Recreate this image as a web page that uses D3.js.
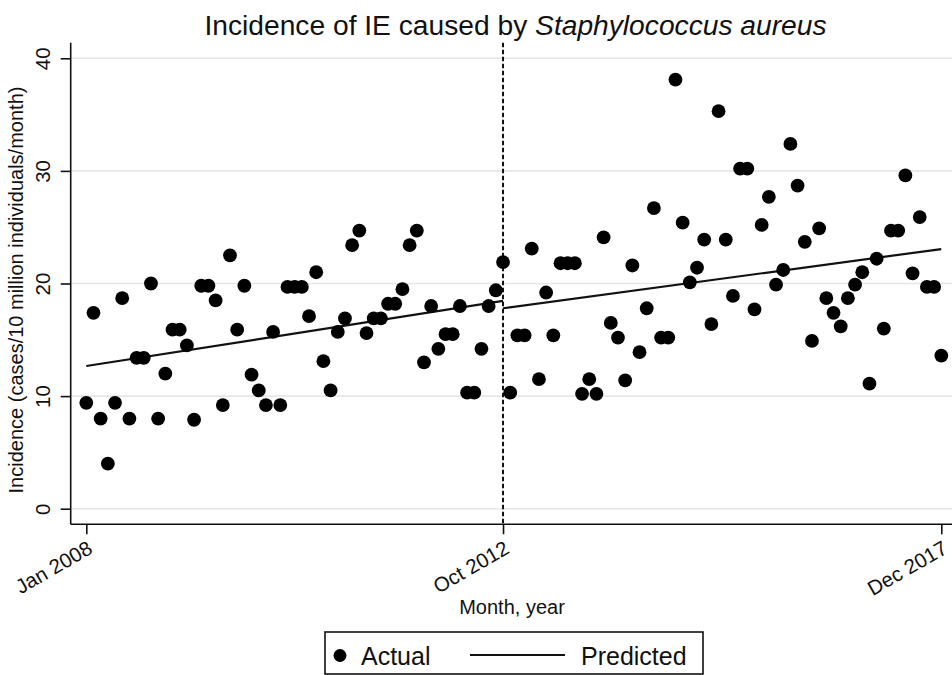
<!DOCTYPE html>
<html>
<head>
<meta charset="utf-8">
<script src="https://cdn.jsdelivr.net/npm/d3@7"></script>
<style>
  html, body { margin: 0; padding: 0; background: #fff; }
  svg { display: block; }
  text { font-family: "Liberation Sans", Arial, sans-serif; fill: #111; }
</style>
</head>
<body>
<div id="chart"></div>
<script>
// ---- data ----
const titleMain = "Incidence of IE caused by ";
const titleItalic = "Staphylococcus aureus";
const xTitle = "Month, year";
const yTitle = "Incidence (cases/10 million individuals/month)";
const xTickMonths = [0, 58, 119];
const xTickLabels = ["Jan 2008", "Oct 2012", "Dec 2017"];
const yTicks = [0, 10, 20, 30, 40];
const interventionMonth = 58;
const actual = [
  9.4, 17.4, 8.0, 4.0, 9.4, 18.7, 8.0, 13.4, 13.4, 20.0,
  8.0, 12.0, 15.9, 15.9, 14.5, 7.9, 19.8, 19.8, 18.5, 9.2,
  22.5, 15.9, 19.8, 11.9, 10.5, 9.2, 15.7, 9.2, 19.7, 19.7,
  19.7, 17.1, 21.0, 13.1, 10.5, 15.7, 16.9, 23.4, 24.7, 15.6,
  16.9, 16.9, 18.2, 18.2, 19.5, 23.4, 24.7, 13.0, 18.0, 14.2,
  15.5, 15.5, 18.0, 10.3, 10.3, 14.2, 18.0, 19.4, 21.9, 10.3,
  15.4, 15.4, 23.1, 11.5, 19.2, 15.4, 21.8, 21.8, 21.8, 10.2,
  11.5, 10.2, 24.1, 16.5, 15.2, 11.4, 21.6, 13.9, 17.8, 26.7,
  15.2, 15.2, 38.1, 25.4, 20.1, 21.4, 23.9, 16.4, 35.3, 23.9,
  18.9, 30.2, 30.2, 17.7, 25.2, 27.7, 19.9, 21.2, 32.4, 28.7,
  23.7, 14.9, 24.9, 18.7, 17.4, 16.2, 18.7, 19.9, 21.0, 11.1,
  22.2, 16.0, 24.7, 24.7, 29.6, 20.9, 25.9, 19.7, 19.7, 13.6
];
// predicted segments (month, value)
const predictedPreMonths = [0, 58];
const predictedPreValues = [12.67, 18.45];
const predictedPostMonths = [58, 119];
const predictedPostValues = [17.8, 23.06];
const legendLabels = ["Actual", "Predicted"];

// ---- chart ----
const W = 952, H = 675;
const svg = d3.select("#chart").append("svg").attr("width", W).attr("height", H);

const axisX = 70.7, axisY = 524.3, plotTop = 42.7, plotRight = 952;
const x = d3.scaleLinear().domain([0, 119]).range([86.3, 941.3]);
const y = d3.scaleLinear().domain([0, 40]).range([508.7, 58.3]);

// gridlines
svg.append("g").selectAll("line").data(yTicks).join("line")
  .attr("x1", axisX).attr("x2", plotRight)
  .attr("y1", d => y(d)).attr("y2", d => y(d))
  .attr("stroke", "#e6e6e6").attr("stroke-width", 1.6);

// y axis
const yAxis = svg.append("g").attr("transform", `translate(${axisX},0)`)
  .call(d3.axisLeft(y).tickValues(yTicks).tickSize(10).tickPadding(0).tickFormat(d3.format("d")));
yAxis.select(".domain").attr("d", `M0,${plotTop}V${axisY}`).attr("stroke", "#111").attr("stroke-width", 1.6);
yAxis.selectAll(".tick line").attr("stroke", "#111").attr("stroke-width", 1.6);
yAxis.selectAll(".tick text")
  .attr("font-size", 20.5).attr("text-anchor", "middle").attr("dy", 0)
  .attr("x", null)
  .attr("transform", "translate(-21,0) rotate(-90)")
  .attr("font-family", "Liberation Sans, Arial, sans-serif").attr("fill", "#111");

// x axis
const xAxis = svg.append("g").attr("transform", `translate(0,${axisY})`)
  .call(d3.axisBottom(x).tickValues(xTickMonths).tickSize(10)
    .tickFormat((d, i) => xTickLabels[i]));
xAxis.select(".domain").attr("d", `M${axisX},0H${plotRight}`).attr("stroke", "#111").attr("stroke-width", 1.6);
xAxis.selectAll(".tick line").attr("stroke", "#111").attr("stroke-width", 1.6);
xAxis.selectAll(".tick text")
  .attr("font-size", 20.5).attr("text-anchor", "end").attr("dy", 0).attr("y", null)
  .attr("transform", "translate(7,28) rotate(-30)")
  .attr("font-family", "Liberation Sans, Arial, sans-serif").attr("fill", "#111");

// intervention dashed line
svg.append("line")
  .attr("x1", x(interventionMonth)).attr("x2", x(interventionMonth))
  .attr("y1", plotTop).attr("y2", axisY)
  .attr("stroke", "#111").attr("stroke-width", 2).attr("stroke-dasharray", "4.5,2.5");

// predicted lines
const line = d3.line().x(d => x(d[0])).y(d => y(d[1]));
[[predictedPreMonths, predictedPreValues], [predictedPostMonths, predictedPostValues]].forEach(([ms, vs]) => {
  svg.append("path").datum(ms.map((m, i) => [m, vs[i]]))
    .attr("d", line).attr("fill", "none").attr("stroke", "#111").attr("stroke-width", 2.2);
});

// actual dots
svg.append("g").selectAll("circle").data(actual).join("circle")
  .attr("cx", (d, i) => x(i)).attr("cy", d => y(d)).attr("r", 6.9).attr("fill", "#000");

// title
const t = svg.append("text").attr("x", 515.5).attr("y", 35).attr("text-anchor", "middle").attr("font-size", 28.2);
t.append("tspan").text(titleMain);
t.append("tspan").attr("font-style", "italic").text(titleItalic);

// axis titles
svg.append("text").attr("x", 512).attr("y", 614).attr("text-anchor", "middle").attr("font-size", 20).text(xTitle);
svg.append("text").attr("transform", "translate(23,290) rotate(-90)").attr("text-anchor", "middle").attr("font-size", 20).text(yTitle);

// legend
const lg = svg.append("g");
lg.append("rect").attr("x", 325).attr("y", 632).attr("width", 378).attr("height", 42)
  .attr("fill", "#fff").attr("stroke", "#111").attr("stroke-width", 1.6);
lg.append("circle").attr("cx", 340).attr("cy", 655.5).attr("r", 6.5).attr("fill", "#000");
lg.append("text").attr("x", 361).attr("y", 664.5).attr("font-size", 25).text(legendLabels[0]);
lg.append("line").attr("x1", 470).attr("x2", 565).attr("y1", 655).attr("y2", 655)
  .attr("stroke", "#111").attr("stroke-width", 2.2);
lg.append("text").attr("x", 581).attr("y", 664.5).attr("font-size", 25).text(legendLabels[1]);
</script>
</body>
</html>
